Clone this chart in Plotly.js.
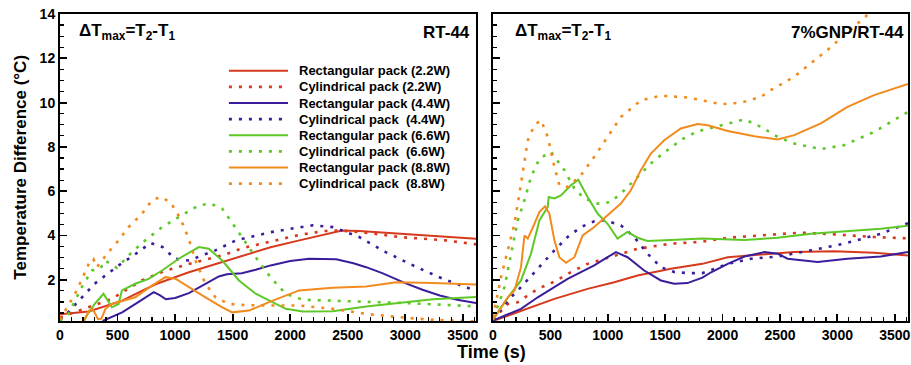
<!DOCTYPE html>
<html><head><meta charset="utf-8">
<script src="https://cdn.plot.ly/plotly-3.0.1.min.js"></script>
<style>html,body{margin:0;padding:0;background:#fff}#chart{width:911px;height:365px}</style>
</head><body><div id="chart"></div>
<script>
// ---- Left panel: RT-44 ----
const rt_r22_t = [0,250,540,830,1120,1410,1700,1830,2080,2300,2450,2600,2950,3350,3615];
const rt_r22_v = [0.45,0.57,1.06,1.8,2.34,2.8,3.25,3.47,3.78,4.05,4.23,4.2,4.08,3.92,3.85];
const rt_c22_t = [0,250,450,710,920,1180,1410,1600,1830,2080,2300,2430,2700,2950,3350,3615];
const rt_c22_v = [0.3,0.76,1.14,1.97,2.42,2.8,3.1,3.45,3.73,4.03,4.2,4.23,4.1,3.93,3.78,3.6];
const rt_r44_t = [370,540,680,815,870,920,1000,1120,1260,1380,1450,1580,1700,1830,2000,2165,2400,2550,2660,2800,3000,3150,3300,3450,3615];
const rt_r44_v = [0.14,0.53,0.99,1.44,1.3,1.12,1.18,1.4,1.8,2.15,2.25,2.3,2.45,2.65,2.85,2.95,2.93,2.75,2.57,2.3,1.85,1.55,1.29,1.1,0.95];
const rt_c44_t = [0,70,300,510,680,785,890,1000,1120,1240,1350,1530,1700,1830,2000,2195,2370,2600,2830,3100,3330,3615];
const rt_c44_v = [0.2,0.53,1.82,2.65,3.25,3.66,3.48,2.95,2.87,3.1,3.33,3.78,4.0,4.15,4.3,4.46,4.38,3.93,3.25,2.57,2.04,1.5];
const rt_r66_t = [200,300,378,451,509,538,654,770,887,1032,1206,1293,1410,1555,1700,1831,1962,2108,2369,2660,2950,3241,3615];
const rt_r66_v = [0.14,0.9,1.37,0.76,0.91,1.52,1.82,2.04,2.42,2.95,3.48,3.4,2.87,1.97,1.37,1.03,0.69,0.57,0.58,0.79,0.94,1.12,1.22];
const rt_c66_t = [0,73,189,276,350,392,494,625,741,887,1032,1206,1308,1410,1541,1700,1831,1962,2108,2369,2660,3000,3300,3615];
const rt_c66_v = [0.14,0.46,1.67,2.42,2.5,2.87,2.54,3.25,3.78,4.38,4.83,5.36,5.44,5.21,4.23,3.02,2.1,1.37,1.1,1.06,1.03,0.95,0.88,0.8];
const rt_r88_t = [210,250,285,330,360,395,451,654,799,916,1003,1119,1264,1410,1497,1642,1816,2078,2369,2660,2921,3241,3615];
const rt_r88_v = [0.14,0.6,0.68,0.22,0.25,0.69,0.91,1.21,1.74,2.12,2.05,1.67,1.21,0.76,0.53,0.61,0.99,1.52,1.64,1.7,1.89,1.86,1.79];
const rt_c88_t = [0,131,218,262,290,320,421,509,596,712,799,872,959,1046,1119,1177,1264,1352,1468,1600,1800,2080,2369,2660,2950,3241,3500,3615];
const rt_c88_v = [0.2,1.37,2.34,2.87,2.95,2.57,3.25,3.78,4.38,4.98,5.59,5.74,5.51,4.76,3.85,2.87,1.82,1.2,0.91,0.86,0.84,0.84,0.69,0.46,0.31,0.19,0.14,0.12];

// ---- Right panel: 7%GNP/RT-44 ----
const g_r22_t = [0,244,535,824,1057,1259,1549,1824,2045,2335,2624,2972,3320,3615];
const g_r22_v = [0.14,0.61,1.14,1.59,1.89,2.19,2.5,2.72,3.02,3.14,3.25,3.29,3.22,3.1];
const g_c22_t = [0,129,216,390,535,679,824,970,1114,1259,1549,1824,2045,2335,2683,2972,3320,3615];
const g_c22_v = [0.2,0.91,0.99,1.59,1.92,2.35,2.72,2.95,3.18,3.4,3.63,3.72,3.9,4.0,4.13,4.05,3.93,3.87];
const g_r44_t = [0,244,390,535,650,766,882,998,1071,1172,1317,1462,1578,1694,1824,1900,2045,2190,2364,2480,2566,2827,3088,3378,3615];
const g_r44_v = [0.16,0.69,1.21,1.67,2.04,2.35,2.65,3.02,3.25,3.02,2.42,1.97,1.82,1.85,2.1,2.34,2.72,3.05,3.25,3.18,2.95,2.8,2.95,3.05,3.25];
const g_c44_t = [0,129,244,390,535,650,766,882,970,1114,1230,1346,1462,1578,1700,1824,2045,2248,2480,2770,3059,3378,3615];
const g_c44_v = [0.2,1.06,1.67,2.5,3.33,3.93,4.38,4.64,4.69,4.46,3.93,3.18,2.57,2.35,2.3,2.3,2.72,2.95,3.05,3.33,3.63,4.08,4.56];
const g_r66_t = [0,130,244,331,404,477,485,535,592,679,743,824,911,998,1085,1172,1259,1346,1549,1824,2190,2480,2770,3059,3378,3615];
const g_r66_v = [0.2,1.2,1.97,3.18,4.68,5.29,5.74,5.67,5.81,6.27,6.52,5.74,4.99,4.53,3.86,4.16,3.9,3.75,3.8,3.86,3.8,3.9,4.08,4.2,4.3,4.44];
const g_c66_t = [0,50,100,158,216,274,331,404,506,622,709,796,911,1027,1143,1259,1375,1491,1650,1780,1929,2190,2335,2480,2624,2856,3059,3320,3615];
const g_c66_v = [0.3,0.9,1.67,3.18,4.68,5.59,6.64,7.47,7.77,6.95,6.12,5.67,5.44,5.51,6.04,6.64,7.25,7.75,8.35,8.7,8.9,9.24,8.9,8.45,8.15,7.9,8.08,8.68,9.58];
const g_r88_t = [0,129,187,244,274,303,361,404,453,491,535,578,636,709,781,882,998,1114,1201,1288,1375,1491,1636,1781,1871,2045,2277,2480,2624,2856,3088,3320,3615];
const g_r88_v = [0.2,1.21,1.52,2.57,4.0,3.86,4.53,5.06,5.32,4.99,3.78,3.02,2.77,3.02,4.0,4.38,4.91,5.44,6.04,6.95,7.7,8.3,8.83,9.03,8.98,8.72,8.48,8.33,8.53,9.06,9.81,10.34,10.84];
const g_c88_t = [0,70,129,187,244,303,361,418,477,535,578,650,766,882,998,1114,1230,1291,1465,1697,1987,2161,2335,2422,2624,2914,3146,3262,3400];
const g_c88_v = [0.3,2.12,3.33,4.53,6.34,8.3,8.98,9.21,8.45,7.1,6.27,6.19,6.72,7.55,8.45,9.35,9.85,10.11,10.31,10.23,9.93,10.0,10.26,10.57,11.17,12.38,13.43,13.96,14.6];

const seriesNames = ['Rectangular pack (2.2W)','Cylindrical pack (2.2W)','Rectangular pack (4.4W)','Cylindrical pack \u00a0(4.4W)',
                     'Rectangular pack (6.6W)','Cylindrical pack \u00a0(6.6W)','Rectangular pack (8.8W)','Cylindrical pack \u00a0(8.8W)'];

const RED='#d7391c', BLUE='#3b1d9c', GREEN='#5ec826', ORANGE='#f28a1d';
const leftSets = [[rt_r22_t,rt_r22_v],[rt_c22_t,rt_c22_v],[rt_r44_t,rt_r44_v],[rt_c44_t,rt_c44_v],
                  [rt_r66_t,rt_r66_v],[rt_c66_t,rt_c66_v],[rt_r88_t,rt_r88_v],[rt_c88_t,rt_c88_v]];
const rightSets = [[g_r22_t,g_r22_v],[g_c22_t,g_c22_v],[g_r44_t,g_r44_v],[g_c44_t,g_c44_v],
                   [g_r66_t,g_r66_v],[g_c66_t,g_c66_v],[g_r88_t,g_r88_v],[g_c88_t,g_c88_v]];
const colors = [RED,RED,BLUE,BLUE,GREEN,GREEN,ORANGE,ORANGE];

function styleFor(i){
  const dotted = i%2===1;
  return dotted ? {color:colors[i], width:2.6, dash:'3px,7px'} : {color:colors[i], width:2};
}
const traces = [];
leftSets.forEach((s,i)=>traces.push({x:s[0], y:s[1], mode:'lines', name:seriesNames[i],
  line:styleFor(i), xaxis:'x', yaxis:'y', showlegend:false, hoverinfo:'skip'}));
rightSets.forEach((s,i)=>traces.push({x:s[0], y:s[1], mode:'lines', name:seriesNames[i],
  line:styleFor(i), xaxis:'x2', yaxis:'y2', showlegend:false, hoverinfo:'skip'}));

const tickFont = {family:'"Liberation Sans Narrow", "Liberation Sans", Arial, sans-serif', size:14, color:'#000', weight:'bold'};
function xa(domain, anchor){
  return {domain:domain, anchor:anchor, range:[0,3615], showgrid:false, zeroline:false,
    showline:true, linecolor:'#000', linewidth:2, mirror:true,
    ticks:'inside', ticklen:7, tickwidth:1.8, tickcolor:'#000',
    tickmode:'linear', tick0:0, dtick:500, tickfont:tickFont,
    minor:{tickmode:'linear', dtick:100, tick0:0, ticks:'inside', ticklen:4, tickwidth:1.2, tickcolor:'#000', showgrid:false}};
}
function ya(anchor, labels){
  return {anchor:anchor, domain:[0,1], range:[0.14,14], showgrid:false, zeroline:false,
    showline:true, linecolor:'#000', linewidth:2, mirror:true,
    ticks:'inside', ticklen:7, tickwidth:1.8, tickcolor:'#000',
    tickmode:'linear', tick0:0, dtick:2, showticklabels:labels, tickfont:tickFont,
    minor:{tickmode:'linear', dtick:0.5, tick0:0, ticks:'inside', ticklen:4, tickwidth:1.2, tickcolor:'#000', showgrid:false}};
}
const annFont = {family:'"Liberation Sans", Arial, sans-serif', size:17, color:'#000', weight:'bold'};
const dT = '\u0394T<sub>max</sub>=T<sub>2</sub>-T<sub>1</sub>';
const annotations = [
  {xref:'x domain', yref:'y domain', x:0.04, y:0.94, xanchor:'left', yanchor:'middle', text:dT, showarrow:false, font:annFont},
  {xref:'x domain', yref:'y domain', x:0.99, y:0.94, xanchor:'right', yanchor:'middle', text:'RT-44', showarrow:false, font:annFont},
  {xref:'x2 domain', yref:'y2 domain', x:0.048, y:0.94, xanchor:'left', yanchor:'middle', text:dT, showarrow:false, font:annFont},
  {xref:'x2 domain', yref:'y2 domain', x:0.995, y:0.94, xanchor:'right', yanchor:'middle', text:'7%GNP/RT-44', showarrow:false, font:annFont},
  {xref:'paper', yref:'paper', x:0.509, y:-0.10, xanchor:'center', yanchor:'middle', text:'Time (s)', showarrow:false,
    font:{family:'"Liberation Sans Narrow", "Liberation Sans", Arial, sans-serif', size:18, color:'#000', weight:'bold'}},
  {xref:'paper', yref:'paper', x:-0.047, y:0.50, xanchor:'center', yanchor:'middle', textangle:-90, text:'Temperature Difference (\u00b0C)', showarrow:false,
    font:{family:'"Liberation Sans", Arial, sans-serif', size:17, color:'#000', weight:'bold'}}
];
// legend (drawn in the left panel's domain coordinates)
const shapes = [];
const legX0 = 0.406, legX1 = 0.548, legTextX = 0.57, legTop = 0.815, legStep = 0.0525;
seriesNames.forEach((nm,i)=>{
  const yy = legTop - i*legStep;
  const st = styleFor(i);
  shapes.push({type:'line', xref:'x domain', yref:'y domain', x0:legX0, x1:legX1, y0:yy, y1:yy,
    line:{color:st.color, width:st.width, dash:st.dash||'solid'}});
  annotations.push({xref:'x domain', yref:'y domain', x:legTextX, y:yy, xanchor:'left', yanchor:'middle',
    text:'<b>'+nm+'</b>', showarrow:false, font:{family:'"Liberation Sans", Arial, sans-serif', size:13, color:'#000'}});
});
const layout = {
  width:911, height:365, margin:{l:60, r:3, t:14, b:44},
  paper_bgcolor:'#fff', plot_bgcolor:'#fff', showlegend:false,
  font:{family:'"Liberation Sans", Arial, sans-serif', color:'#000'},
  xaxis:xa([0,0.4906],'y'), yaxis:ya('x', true),
  xaxis2:xa([0.5106,1],'y2'), yaxis2:ya('x2', false),
  annotations:annotations, shapes:shapes
};
Plotly.newPlot('chart', traces, layout, {staticPlot:true, displayModeBar:false});
</script></body></html>
